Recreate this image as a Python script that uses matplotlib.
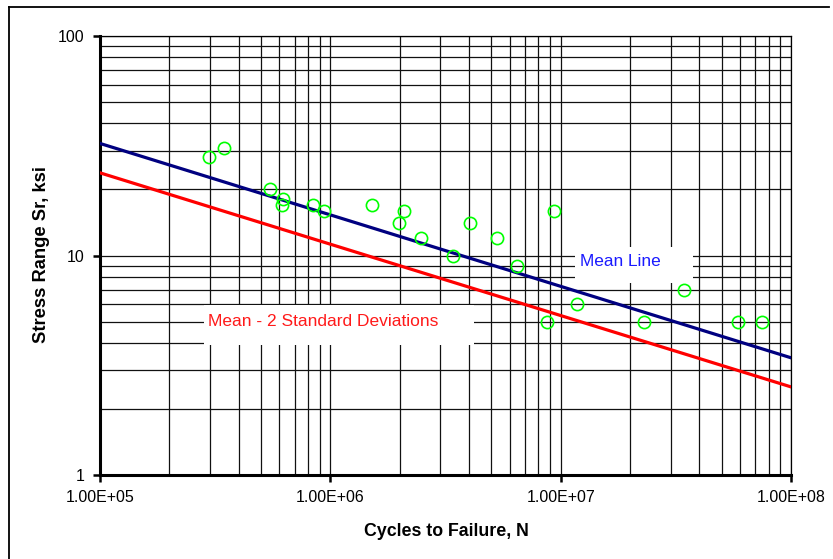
import matplotlib
matplotlib.use("Agg")
import matplotlib.pyplot as plt
from matplotlib.lines import Line2D
from matplotlib.patches import Rectangle
from matplotlib.ticker import LogLocator, NullFormatter, FixedLocator, FixedFormatter

plt.rcParams['font.family'] = ['Liberation Sans', 'DejaVu Sans']

# Test results: cycles to failure and stress range (ksi)
cycles = [2.97e5, 3.44e5, 5.48e5, 6.25e5, 6.15e5, 8.41e5, 9.38e5, 1.51e6,
          2.08e6, 1.99e6, 2.48e6, 3.40e6, 4.05e6, 5.27e6, 6.46e6, 8.75e6,
          9.35e6, 1.18e7, 2.29e7, 3.44e7, 5.87e7, 7.48e7]
stress = [28, 31, 20, 18, 17, 17, 16, 17,
          16, 14, 12, 10, 14, 12, 9, 5,
          16, 6, 5, 7, 5, 5]

# S-N regression lines evaluated at the ends of the cycle range
line_cycles = [1e5, 1e8]
mean_stress = [32.4, 3.42]
lower_stress = [23.8, 2.52]

x_ticks = [1e5, 1e6, 1e7, 1e8]
x_tick_labels = ["1.00E+05", "1.00E+06", "1.00E+07", "1.00E+08"]
y_ticks = [1, 10, 100]
y_tick_labels = ["1", "10", "100"]

fig = plt.figure(figsize=(8.33, 5.59), dpi=100)
W, H = 833, 559
left, right, top, bottom = 100, 791, 36, 475
ax = fig.add_axes([left / W, (H - bottom) / H, (right - left) / W, (bottom - top) / H])

ax.set_xscale('log')
ax.set_yscale('log')
ax.set_xlim(1e5, 1e8)
ax.set_ylim(1, 100)

# Grid: major and minor lines on both axes
ax.xaxis.set_minor_locator(LogLocator(base=10, subs=range(2, 10)))
ax.yaxis.set_minor_locator(LogLocator(base=10, subs=range(2, 10)))
ax.xaxis.set_minor_formatter(NullFormatter())
ax.yaxis.set_minor_formatter(NullFormatter())
ax.grid(True, which='both', color='#111111', linewidth=0.9)
ax.set_axisbelow(True)

ax.xaxis.set_major_locator(FixedLocator(x_ticks))
ax.xaxis.set_major_formatter(FixedFormatter(x_tick_labels))
ax.yaxis.set_major_locator(FixedLocator(y_ticks))
ax.yaxis.set_major_formatter(FixedFormatter(y_tick_labels))
ax.tick_params(which='minor', length=0)
ax.tick_params(which='major', direction='out', length=5, width=1.8,
               labelsize=11.5, pad=6)

for side in ('left', 'bottom'):
    ax.spines[side].set_linewidth(2.2)
for side in ('top', 'right'):
    ax.spines[side].set_linewidth(0.9)

ax.plot(line_cycles, mean_stress, color='#000080', linewidth=2.3, zorder=3)
ax.plot(line_cycles, lower_stress, color='#ff0000', linewidth=2.3, zorder=3)
ax.plot(cycles, stress, linestyle='none', marker='o', markersize=8.8,
        markerfacecolor='none', markeredgecolor='#00ff00',
        markeredgewidth=1.2, zorder=4)

def px_to_axes(px, py):
    return (px - left) / (right - left), (bottom - py) / (bottom - top)

# Label boxes that mask the grid
for (x0, y0, x1, y1) in [(575, 247, 693, 283), (204, 305, 474, 345)]:
    ax0, ay1 = px_to_axes(x0, y1)
    ax1, ay0 = px_to_axes(x1, y0)
    ax.add_patch(Rectangle((ax0, ay1), ax1 - ax0, ay0 - ay1,
                           transform=ax.transAxes, facecolor='white',
                           edgecolor='none', zorder=2.5))

tx, ty = px_to_axes(580, 261)
ax.text(tx, ty, "Mean Line", transform=ax.transAxes, color='#1a1aff',
        fontsize=12.4, va='center', ha='left', zorder=5)
tx, ty = px_to_axes(208, 321)
ax.text(tx, ty, "Mean - 2 Standard Deviations", transform=ax.transAxes,
        color='#ff1a1a', fontsize=12.5, va='center', ha='left', zorder=5)

fig.text(446 / W, 1 - 531 / H, "Cycles to Failure, N", fontsize=12.8,
         fontweight='bold', ha='center', va='center')
fig.text(42 / W, 1 - 255 / H, "Stress Range Sr, ksi", fontsize=13.2,
         fontweight='bold', ha='center', va='center', rotation=90)

# Outer frame (left and top edges)
fig.add_artist(Line2D([9 / W, 9 / W], [0, 1 - 7 / H], transform=fig.transFigure,
                      color='black', linewidth=1.3))
fig.add_artist(Line2D([9 / W, 829 / W], [1 - 7 / H, 1 - 7 / H],
                      transform=fig.transFigure, color='black', linewidth=1.3))

fig.savefig("out.png", dpi=100)
